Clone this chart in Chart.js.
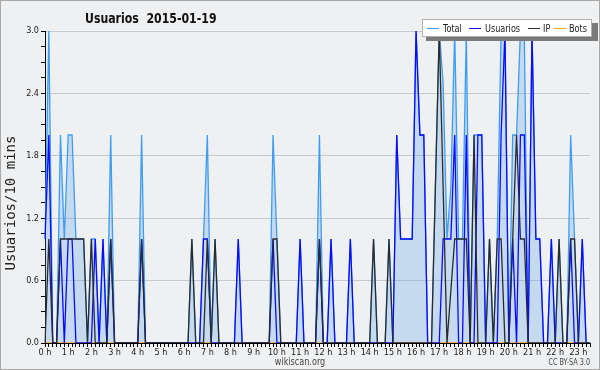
<!DOCTYPE html>
<html>
<head>
<meta charset="utf-8">
<script src="https://cdn.jsdelivr.net/npm/chart.js@4"></script>
<style>
  html, body { margin: 0; padding: 0; background: #eff0f2; }
</style>
</head>
<body>
<canvas id="usuarios" width="600" height="370"></canvas>
<script>
const titleText = 'Usuarios  2015-01-19';
const yTitle = 'Usuarios/10 mins';
const hourLabels = ['0 h', '1 h', '2 h', '3 h', '4 h', '5 h', '6 h', '7 h', '8 h', '9 h', '10 h', '11 h',
    '12 h', '13 h', '14 h', '15 h', '16 h', '17 h', '18 h', '19 h', '20 h', '21 h', '22 h', '23 h'];

// one value per 10 minutes, one row per hour
const total = [
    1, 3, 0, 0, 2, 1,   2, 2, 1, 1, 1, 0,   1, 1, 0, 1, 0, 2,   0, 0, 0, 0, 0, 0,
    0, 2, 0, 0, 0, 0,   0, 0, 0, 0, 0, 0,   0, 0, 1, 0, 0, 1,   2, 0, 1, 0, 0, 0,
    0, 0, 1, 0, 0, 0,   0, 0, 0, 0, 0, 2,   1, 0, 0, 0, 0, 0,   1, 0, 0, 0, 0, 2,
    0, 0, 1, 0, 0, 0,   0, 1, 0, 0, 0, 0,   0, 1, 0, 0, 0, 1,   0, 2, 1, 1, 1, 1,
    3, 2, 2, 0, 0, 1.5, 3, 2.5, 1, 1.5, 3, 1, 1, 3, 0, 2, 2, 2,  0, 1, 0, 1, 3, 3,
    0, 2, 2, 3, 3, 0,   3, 1, 1, 0, 0, 1,   0, 1, 0, 0, 2, 1,   0, 1, 0, 0
];
const usuarios = [
    1, 2, 0, 0, 1, 0,   1, 1, 0, 0, 0, 0,   0, 1, 0, 1, 0, 1,   0, 0, 0, 0, 0, 0,
    0, 1, 0, 0, 0, 0,   0, 0, 0, 0, 0, 0,   0, 0, 0, 0, 0, 1,   1, 0, 0, 0, 0, 0,
    0, 0, 1, 0, 0, 0,   0, 0, 0, 0, 0, 1,   0, 0, 0, 0, 0, 0,   1, 0, 0, 0, 0, 1,
    0, 0, 1, 0, 0, 0,   0, 1, 0, 0, 0, 0,   0, 0, 0, 0, 0, 0,   0, 2, 1, 1, 1, 1,
    3, 2, 2, 0, 0, 0,   0, 1, 1, 1, 2, 0,   0, 2, 0, 0, 2, 2,   0, 0, 0, 0, 2, 3,
    0, 1, 0, 2, 2, 0,   3, 1, 1, 0, 0, 1,   0, 0, 0, 0, 1, 0,   0, 1, 0, 0
];
const ip = [
    0, 1, 0, 0, 1, 1,   1, 1, 1, 1, 1, 0,   1, 0, 0, 0, 0, 1,   0, 0, 0, 0, 0, 0,
    0, 1, 0, 0, 0, 0,   0, 0, 0, 0, 0, 0,   0, 0, 1, 0, 0, 0,   1, 0, 1, 0, 0, 0,
    0, 0, 0, 0, 0, 0,   0, 0, 0, 0, 0, 1,   1, 0, 0, 0, 0, 0,   0, 0, 0, 0, 0, 1,
    0, 0, 0, 0, 0, 0,   0, 0, 0, 0, 0, 0,   0, 1, 0, 0, 0, 1,   0, 0, 0, 0, 0, 0,
    0, 0, 0, 0, 0, 1.5, 3, 1.5, 0, 0.5, 1, 1, 1, 1, 0, 2, 0, 0,  0, 1, 0, 1, 1, 0,
    0, 1, 2, 1, 1, 0,   0, 0, 0, 0, 0, 0,   0, 1, 0, 0, 1, 1,   0, 0, 0, 0
];
const bots = [
    0, 0, 0, 0, 0, 0,   0, 0, 0, 0, 0, 0,   0, 0, 0, 0, 0, 0,   0, 0, 0, 0, 0, 0,
    0, 0, 0, 0, 0, 0,   0, 0, 0, 0, 0, 0,   0, 0, 0, 0, 0, 0,   0, 0, 0, 0, 0, 0,
    0, 0, 0, 0, 0, 0,   0, 0, 0, 0, 0, 0,   0, 0, 0, 0, 0, 0,   0, 0, 0, 0, 0, 0,
    0, 0, 0, 0, 0, 0,   0, 0, 0, 0, 0, 0,   0, 0, 0, 0, 0, 0,   0, 0, 0, 0, 0, 0,
    0, 0, 0, 0, 0, 0,   0, 0, 0, 0, 0, 0,   0, 0, 0, 0, 0, 0,   0, 0, 0, 0, 0, 0,
    0, 0, 0, 0, 0, 0,   0, 0, 0, 0, 0, 0,   0, 0, 0, 0, 0, 0,   0, 0, 0, 0
];

const colors = {
    total: '#3d9df2',
    usuarios: '#0a0aff',
    ip: '#2b2b2b',
    bots: '#ffa31a'
};

const smallFont = '"DejaVu Sans Condensed", "DejaVu Sans", sans-serif';

// slot index -> time of day, ticks only show the hour label
const slots = total.map((_, i) => Math.floor(i / 6) + ':' + (i % 6) + '0');

// the original uses a condensed face, squeeze the normal one a bit
function squeezedText(ctx, text, x, y, squeeze) {
    ctx.save();
    ctx.translate(x, y);
    ctx.scale(squeeze, 1);
    ctx.fillText(text, 0, 0);
    ctx.restore();
}

const frame = {
    id: 'frame',
    beforeDraw(chart) {
        const ctx = chart.ctx;
        ctx.save();
        ctx.fillStyle = '#eff0f2';
        ctx.fillRect(0, 0, chart.width, chart.height);
        ctx.restore();
    },
    afterDraw(chart) {
        const ctx = chart.ctx;
        ctx.save();
        ctx.strokeStyle = '#a8a8a8';
        ctx.lineWidth = 1;
        ctx.strokeRect(0.5, 0.5, chart.width - 1, chart.height - 1);

        ctx.fillStyle = '#111';
        ctx.font = 'bold 14px ' + smallFont;
        ctx.textAlign = 'left';
        squeezedText(ctx, titleText, 85, 23, 0.87);

        // legend box with its shadow
        ctx.fillStyle = '#7a7a7a';
        ctx.fillRect(426, 23, 172, 18);
        ctx.fillStyle = '#ffffff';
        ctx.fillRect(423, 20, 168, 16);
        ctx.strokeStyle = '#b0b0b0';
        ctx.strokeRect(422.5, 19.5, 169, 17);
        const items = [
            ['Total', colors.total, 427, 443],
            ['Usuarios', colors.usuarios, 469, 485],
            ['IP', colors.ip, 528, 543],
            ['Bots', colors.bots, 554, 569]
        ];
        ctx.font = '11px ' + smallFont;
        items.forEach(([text, color, lx, tx]) => {
            ctx.strokeStyle = color;
            ctx.beginPath();
            ctx.moveTo(lx, 28.5);
            ctx.lineTo(lx + 12, 28.5);
            ctx.stroke();
            ctx.fillStyle = '#222';
            squeezedText(ctx, text, tx, 32, 0.82);
        });

        ctx.fillStyle = '#444';
        ctx.font = '10px ' + smallFont;
        ctx.textAlign = 'center';
        squeezedText(ctx, 'wikiscan.org', 300, 365, 0.9);
        ctx.font = '8px ' + smallFont;
        ctx.textAlign = 'right';
        squeezedText(ctx, 'CC BY-SA 3.0', 590, 365, 0.9);

        ctx.translate(15, 203);
        ctx.rotate(-Math.PI / 2);
        ctx.fillStyle = '#222';
        ctx.font = '14px "DejaVu Sans Mono", monospace';
        ctx.textAlign = 'center';
        ctx.fillText(yTitle, 0, 0);
        ctx.restore();
    }
};

new Chart(document.getElementById('usuarios'), {
    type: 'line',
    data: {
        labels: slots,
        datasets: [
            {
                label: 'IP',
                data: ip,
                borderColor: colors.ip,
                borderWidth: 1.3,
                order: 1
            },
            {
                label: 'Usuarios',
                data: usuarios,
                borderColor: colors.usuarios,
                borderWidth: 1.3,
                order: 2
            },
            {
                label: 'Bots',
                data: bots,
                borderColor: colors.bots,
                borderWidth: 1.3,
                order: 3
            },
            {
                label: 'Total',
                data: total,
                borderColor: colors.total,
                backgroundColor: 'rgba(66, 150, 230, 0.24)',
                fill: 'origin',
                borderWidth: 1.3,
                order: 4
            }
        ]
    },
    options: {
        responsive: false,
        animation: false,
        events: [],
        elements: { point: { radius: 0 }, line: { tension: 0 } },
        layout: { padding: { top: 31, right: 10, left: 0, bottom: 0 } },
        plugins: {
            legend: { display: false },
            title: { display: false },
            tooltip: { enabled: false }
        },
        scales: {
            x: {
                z: 1,
                afterFit(scale) { scale.height = 27; },
                ticks: {
                    autoSkip: false,
                    maxRotation: 0,
                    padding: 0,
                    color: '#222',
                    font: { family: smallFont, size: 9 },
                    callback: (value, index) => index % 6 === 0 ? hourLabels[index / 6] : ''
                },
                grid: { drawOnChartArea: false, tickColor: '#000', tickLength: 4 },
                border: { color: '#000' }
            },
            y: {
                min: 0,
                max: 3,
                afterFit(scale) { scale.width = 45; },
                ticks: {
                    count: 21,
                    autoSkip: false,
                    padding: 2,
                    color: '#222',
                    font: { family: smallFont, size: 9 },
                    callback: (value, index) => index % 4 === 0 ? value.toFixed(1) : ''
                },
                grid: {
                    color: (ctx) => ctx.index % 4 === 0 ? '#c9c9c9' : 'rgba(0,0,0,0)',
                    tickColor: '#000',
                    tickLength: 4
                },
                border: { color: '#000' }
            }
        }
    },
    plugins: [frame]
});
</script>
</body>
</html>
